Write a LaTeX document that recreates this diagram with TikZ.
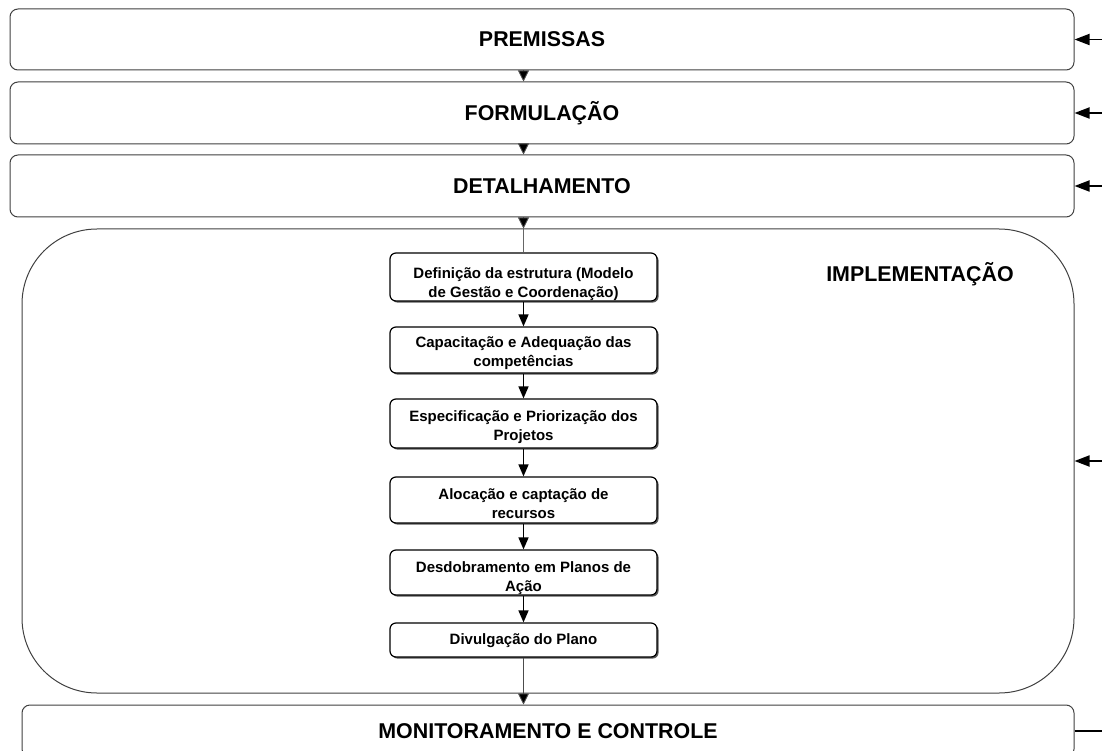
\documentclass[tikz,border=0pt]{standalone}
\usepackage{fontspec}
\setmainfont{Liberation Sans}
\usetikzlibrary{arrows.meta,shadows}

\newcommand{\stagefont}{\fontsize{21.4}{25}\selectfont\bfseries}
\newcommand{\stepfont}{\fontsize{15}{19}\selectfont\bfseries}

\tikzset{
  stage/.style={draw=black!75, line width=1pt, rounded corners=8pt, fill=white,
    minimum width=1064pt, inner sep=0pt, font=\stagefont},
  phasebox/.style={draw=black!75, line width=1pt, rounded corners=75pt,
    minimum width=1052pt, minimum height=464pt, inner sep=0pt},
  stepbox/.style={draw=black, line width=1.2pt, rounded corners=6pt, fill=white,
    minimum width=267pt, inner sep=0pt,
    drop shadow={shadow xshift=1.6pt, shadow yshift=-1.6pt, fill=black!65, opacity=1}},
  steptext/.style={align=center, inner sep=0pt, font=\stepfont},
  flow/.style={draw=black!70, line width=0.9pt,
    -{Triangle[length=11pt,width=11pt,fill=black]}},
  thinlink/.style={draw=black!60, line width=0.9pt},
  stepflow/.style={draw=black, line width=1.5pt,
    -{Triangle[length=12pt,width=10pt]}},
  feedback/.style={draw=black, line width=1.8pt,
    -{Triangle[length=15pt,width=11pt]}},
  outlink/.style={draw=black, line width=2.3pt}
}

\begin{document}
\begin{tikzpicture}[x=1pt,y=-1pt]
\useasboundingbox (0,0) rectangle (1102,751);

% main stages
\node[stage, minimum height=61pt] (prem) at (542,39.5) {PREMISSAS};
\node[stage, minimum height=62pt] (form) at (542,113) {FORMULAÇÃO};
\node[stage, minimum height=62pt] (det)  at (542,186) {DETALHAMENTO};
\node[phasebox] (impl) at (548,461) {};
\node[font=\stagefont, inner sep=0pt] (impllabel) at (920,274) {IMPLEMENTAÇÃO};
\node[stage, minimum width=1052pt, minimum height=52pt] (mon) at (548,731) {MONITORAMENTO E CONTROLE};

% implementation steps
\node[stepbox, minimum height=48pt] (b1) at (523.5,277) {};
\node[stepbox, minimum height=46pt] (b2) at (523.5,350) {};
\node[stepbox, minimum height=49pt] (b3) at (523.5,423.5) {};
\node[stepbox, minimum height=46pt] (b4) at (523.5,500) {};
\node[stepbox, minimum height=45pt] (b5) at (523.5,572.5) {};
\node[stepbox, minimum height=34pt] (b6) at (523.5,640) {};

\node[steptext] (t1) at (523.5,284) {Definição da estrutura (Modelo\\de Gestão e Coordenação)};
\node[steptext] (t2) at (523.5,353) {Capacitação e Adequação das\\competências};
\node[steptext] (t3) at (523.5,427) {Especificação e Priorização dos\\Projetos};
\node[steptext] (t4) at (523.5,504) {Alocação e captação de\\recursos};
\node[steptext] (t5) at (523.5,578) {Desdobramento em Planos de\\Ação};
\node[steptext] (t6) at (523.5,641) {Divulgação do Plano};

% sequence between stages
\draw[flow] (prem.south -| b1) -- (form.north -| b1);
\draw[flow] (form.south -| b1) -- (det.north -| b1);
\draw[flow] (det.south -| b1) -- (impl.north -| b1);
\draw[thinlink] (impl.north -| b1) -- (b1.north);
\draw[stepflow] (b1.south) -- (b2.north);
\draw[stepflow] (b2.south) -- (b3.north);
\draw[stepflow] (b3.south) -- (b4.north);
\draw[stepflow] (b4.south) -- (b5.north);
\draw[stepflow] (b5.south) -- (b6.north);
\draw[flow] (b6.south) -- (mon.north -| b6);

% feedback inputs on the right
\coordinate (in1) at (1102,39.5);
\coordinate (in2) at (1102,113);
\coordinate (in3) at (1102,186);
\coordinate (in4) at (1102,461);
\coordinate (out) at (1102,731);
\draw[feedback] (in1) -- (prem.east);
\draw[feedback] (in2) -- (form.east);
\draw[feedback] (in3) -- (det.east);
\draw[feedback] (in4) -- (impl.east);
\draw[outlink] (mon.east) -- (out);
\end{tikzpicture}
\end{document}
